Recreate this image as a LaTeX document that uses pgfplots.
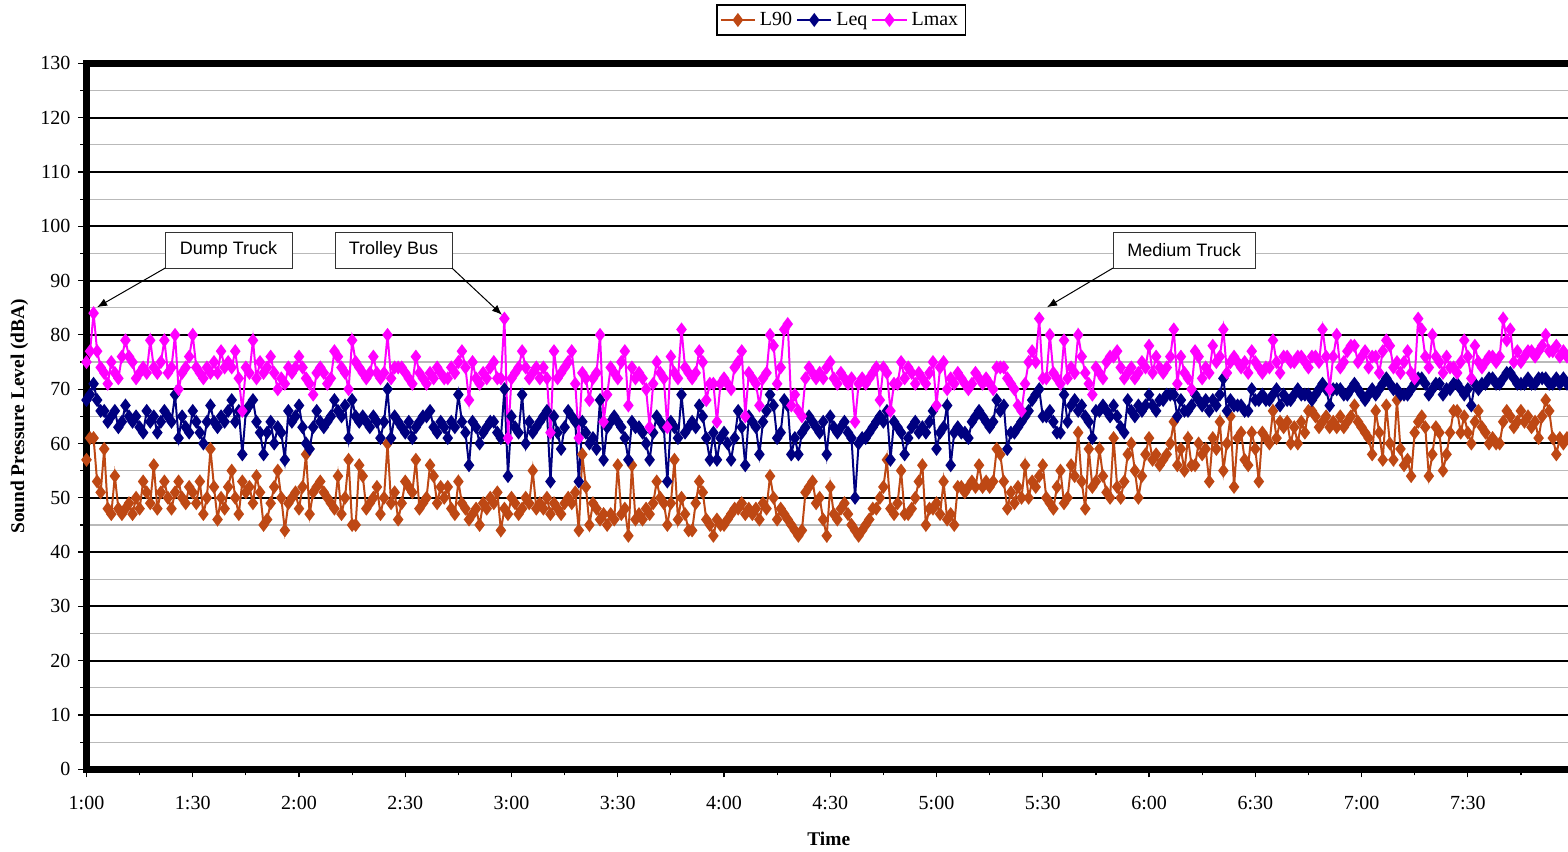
\documentclass[border=0pt]{standalone}
\usepackage{fontspec}
\setmainfont{Liberation Serif}
\newfontfamily\arialfont{Liberation Sans}
\usepackage{pgfplots}
\pgfplotsset{compat=1.18}
\usepackage{pgfplotstable}
\usetikzlibrary{arrows.meta}
\definecolor{cL90}{RGB}{190,72,20}
\definecolor{cLeq}{RGB}{0,0,128}
\definecolor{cLmax}{RGB}{255,0,255}

% one value per minute, starting at 1:00 (t = 60 min)
\pgfplotstableread[header=false,row sep=\\]{
57\\61\\61\\53\\51\\59\\48\\47\\54\\48\\
47\\48\\49\\47\\50\\48\\53\\51\\49\\56\\
48\\51\\53\\50\\48\\51\\53\\50\\49\\52\\
51\\49\\53\\47\\50\\59\\52\\46\\50\\48\\
52\\55\\50\\47\\53\\51\\52\\49\\54\\51\\
45\\46\\49\\52\\55\\50\\44\\49\\50\\51\\
48\\52\\58\\47\\51\\52\\53\\51\\50\\49\\
48\\54\\47\\50\\57\\45\\45\\56\\54\\48\\
49\\50\\52\\47\\50\\60\\49\\51\\46\\49\\
53\\52\\51\\57\\48\\49\\50\\56\\54\\49\\
52\\50\\52\\48\\47\\53\\49\\48\\46\\47\\
48\\45\\49\\48\\50\\49\\51\\44\\48\\47\\
50\\49\\47\\48\\50\\49\\55\\48\\49\\48\\
50\\47\\49\\48\\47\\49\\50\\49\\51\\44\\
58\\52\\45\\49\\48\\46\\47\\45\\47\\46\\
56\\47\\48\\43\\56\\46\\47\\46\\48\\47\\
49\\53\\50\\49\\45\\49\\57\\46\\50\\47\\
44\\44\\49\\53\\51\\46\\45\\43\\46\\45\\
45\\46\\47\\48\\48\\49\\47\\48\\47\\48\\
46\\49\\48\\54\\50\\46\\48\\47\\46\\45\\
44\\43\\44\\51\\52\\53\\49\\50\\46\\43\\
52\\47\\46\\48\\49\\47\\45\\44\\43\\44\\
45\\46\\48\\48\\50\\52\\57\\48\\47\\49\\
55\\47\\47\\48\\50\\53\\56\\45\\48\\48\\
49\\47\\53\\46\\47\\45\\52\\52\\51\\52\\
53\\52\\56\\52\\53\\52\\53\\59\\58\\53\\
48\\51\\49\\52\\50\\56\\50\\53\\52\\54\\
56\\50\\49\\48\\52\\55\\49\\50\\56\\54\\
62\\53\\48\\59\\52\\53\\59\\54\\51\\50\\
61\\52\\50\\53\\58\\60\\55\\50\\54\\58\\
61\\57\\58\\56\\57\\58\\60\\64\\56\\59\\
55\\61\\56\\56\\60\\58\\59\\53\\61\\59\\
64\\55\\60\\65\\52\\61\\62\\57\\56\\62\\
59\\53\\62\\61\\60\\66\\61\\64\\63\\64\\
60\\63\\60\\64\\62\\66\\66\\65\\63\\64\\
65\\63\\64\\63\\65\\63\\64\\65\\67\\64\\
63\\62\\61\\58\\66\\62\\57\\67\\60\\57\\
68\\59\\56\\57\\54\\62\\64\\65\\63\\54\\
58\\63\\62\\55\\58\\62\\66\\66\\62\\65\\
62\\60\\64\\66\\63\\62\\60\\61\\60\\60\\
64\\66\\65\\63\\64\\66\\64\\65\\63\\64\\
61\\65\\68\\66\\61\\58\\61\\60\\61\\
}\Lninety

\pgfplotstableread[header=false,row sep=\\]{
68\\69\\71\\68\\66\\66\\64\\65\\66\\63\\
64\\67\\65\\64\\65\\63\\62\\66\\64\\65\\
62\\64\\66\\65\\64\\69\\61\\65\\63\\62\\
66\\64\\62\\60\\64\\67\\64\\63\\65\\64\\
66\\68\\64\\66\\58\\66\\67\\68\\64\\62\\
58\\62\\64\\60\\63\\62\\57\\66\\64\\65\\
67\\63\\60\\59\\63\\66\\64\\63\\64\\65\\
68\\66\\65\\67\\61\\68\\65\\64\\65\\64\\
63\\65\\64\\61\\64\\70\\61\\65\\64\\63\\
62\\64\\61\\63\\64\\65\\65\\66\\63\\62\\
64\\63\\61\\64\\63\\69\\64\\62\\56\\64\\
63\\60\\62\\63\\64\\64\\62\\61\\70\\54\\
65\\63\\62\\69\\60\\64\\62\\63\\64\\65\\
66\\53\\65\\62\\59\\63\\66\\65\\64\\53\\
64\\62\\60\\61\\59\\68\\57\\63\\64\\65\\
64\\63\\61\\57\\64\\63\\63\\62\\60\\57\\
62\\65\\64\\63\\53\\64\\63\\61\\69\\62\\
63\\64\\63\\67\\65\\61\\57\\62\\57\\61\\
62\\60\\57\\61\\66\\63\\56\\65\\64\\63\\
58\\64\\66\\69\\67\\61\\62\\68\\67\\58\\
61\\58\\62\\63\\65\\64\\63\\62\\64\\58\\
65\\63\\62\\63\\64\\62\\61\\50\\60\\61\\
61\\62\\63\\64\\65\\64\\66\\57\\64\\63\\
62\\58\\61\\63\\64\\62\\63\\62\\64\\66\\
59\\62\\63\\67\\56\\62\\63\\62\\62\\61\\
64\\65\\66\\65\\64\\63\\64\\68\\66\\67\\
59\\62\\62\\63\\64\\65\\66\\68\\69\\70\\
65\\65\\66\\64\\62\\62\\69\\64\\67\\68\\
66\\67\\65\\64\\61\\66\\66\\67\\66\\65\\
67\\65\\63\\62\\68\\66\\65\\67\\66\\67\\
69\\67\\66\\68\\68\\69\\69\\69\\65\\68\\
66\\66\\67\\69\\68\\67\\68\\66\\68\\67\\
69\\72\\66\\68\\67\\67\\67\\66\\66\\70\\
68\\68\\69\\68\\68\\69\\70\\67\\69\\68\\
68\\69\\70\\69\\69\\69\\68\\69\\70\\71\\
70\\67\\70\\70\\70\\69\\69\\70\\71\\70\\
69\\68\\69\\70\\69\\70\\71\\72\\71\\70\\
70\\69\\69\\69\\70\\71\\72\\72\\71\\69\\
70\\71\\71\\69\\70\\70\\71\\71\\70\\69\\
70\\67\\71\\70\\71\\71\\72\\72\\71\\71\\
72\\73\\73\\72\\71\\71\\71\\72\\71\\71\\
72\\72\\72\\71\\71\\72\\71\\72\\71\\
}\Leq

\pgfplotstableread[header=false,row sep=\\]{
75\\77\\84\\77\\74\\73\\71\\75\\73\\72\\
76\\79\\76\\75\\72\\73\\74\\73\\79\\74\\
73\\75\\79\\73\\74\\80\\70\\73\\74\\76\\
80\\74\\73\\72\\74\\73\\75\\73\\77\\74\\
75\\74\\77\\72\\66\\74\\73\\79\\72\\75\\
73\\74\\76\\73\\70\\72\\71\\74\\73\\74\\
76\\74\\72\\71\\69\\73\\74\\73\\71\\72\\
77\\76\\74\\73\\70\\79\\75\\74\\73\\72\\
73\\76\\73\\72\\73\\80\\72\\74\\74\\74\\
73\\72\\71\\76\\73\\72\\71\\73\\72\\74\\
73\\72\\72\\74\\73\\75\\77\\74\\68\\75\\
72\\71\\73\\72\\74\\75\\72\\72\\83\\61\\
72\\73\\74\\77\\74\\72\\73\\74\\72\\74\\
72\\62\\77\\72\\73\\74\\75\\77\\71\\61\\
73\\72\\68\\72\\73\\80\\64\\69\\74\\73\\
72\\75\\77\\67\\74\\72\\73\\72\\70\\63\\
71\\75\\73\\72\\63\\76\\73\\72\\81\\74\\
73\\72\\73\\77\\75\\68\\71\\71\\64\\71\\
72\\71\\70\\74\\75\\77\\65\\73\\72\\71\\
67\\72\\73\\80\\78\\71\\74\\81\\82\\67\\
69\\66\\65\\72\\74\\73\\72\\73\\72\\74\\
75\\72\\71\\73\\72\\71\\72\\64\\71\\72\\
71\\72\\73\\74\\68\\74\\73\\66\\71\\71\\
75\\72\\74\\73\\71\\73\\72\\71\\73\\75\\
67\\74\\75\\70\\72\\71\\73\\72\\71\\70\\
71\\73\\72\\71\\72\\71\\70\\74\\74\\74\\
72\\71\\70\\67\\66\\71\\75\\77\\75\\83\\
72\\72\\80\\73\\72\\71\\79\\72\\74\\73\\
80\\76\\73\\71\\69\\74\\73\\72\\75\\76\\
76\\77\\74\\72\\73\\74\\72\\73\\75\\74\\
78\\73\\76\\74\\73\\74\\76\\81\\71\\76\\
73\\72\\70\\77\\76\\72\\74\\73\\78\\75\\
76\\81\\73\\75\\76\\75\\74\\75\\73\\77\\
75\\74\\73\\74\\74\\79\\75\\73\\76\\76\\
75\\75\\76\\76\\75\\74\\76\\76\\75\\81\\
76\\70\\76\\80\\74\\75\\77\\78\\78\\75\\
76\\77\\74\\76\\76\\73\\77\\79\\78\\74\\
75\\73\\75\\77\\73\\72\\83\\81\\76\\74\\
80\\76\\75\\73\\76\\74\\74\\73\\75\\79\\
76\\72\\78\\75\\74\\75\\76\\76\\75\\76\\
83\\79\\81\\75\\77\\75\\76\\77\\77\\76\\
77\\78\\80\\77\\77\\78\\76\\77\\76\\
}\Lmax

\begin{document}
\begin{tikzpicture}
\path[use as bounding box] (0,0) rectangle (784pt,425.5pt);
\clip (0,0) rectangle (784pt,425.5pt);
\fill[white] (0,0) rectangle (784pt,425.5pt);
\begin{axis}[
  at={(43.25pt,40.85pt)}, anchor=south west,
  scale only axis, width=740.75pt, height=352.95pt,
  xmin=60, xmax=478.3, ymin=0, ymax=130,
  clip=false,
  axis line style={draw=none},
  xtick={60,90,...,450},
  xticklabels={1:00,1:30,2:00,2:30,3:00,3:30,4:00,4:30,5:00,5:30,6:00,6:30,7:00,7:30},
  minor xtick={75,105,...,465},
  ytick={0,10,...,130}, minor ytick={5,15,...,125},
  xtick pos=bottom, ytick pos=left,
  tick align=outside,
  major tick length=4pt, minor tick length=3pt,
  every tick/.style={black, line width=0.6pt},
  ymajorgrids, yminorgrids,
  major grid style={black, line width=1pt},
  minor grid style={gray!55, line width=0.6pt},
  /pgf/number format/assume math mode=true,
  tick label style={font=\fontsize{10}{12}\selectfont},
  xticklabel style={yshift=-6pt},
  yticklabel style={xshift=-0.5pt},
  xlabel={Time}, ylabel={Sound Pressure Level (dBA)},
  label style={font=\fontsize{9.7}{12}\selectfont\bfseries},
  xlabel style={at={(axis description cs:0.501,-0.099)}, anchor=center},
  ylabel style={at={(axis description cs:-0.0452,0.5)}, anchor=center},
  legend columns=3,
  legend style={at={(axis description cs:0.5093,1.0615)}, anchor=center,
    draw=black, line width=0.7pt, font=\fontsize{10}{11}\selectfont,
    inner sep=1.5pt, /tikz/every even column/.append style={column sep=0pt}},
  every axis plot/.append style={line width=1pt, mark=diamond*, mark size=2.7pt},
]
\addplot[color=cL90, mark options={fill=cL90, draw=cL90}] table[x expr=\coordindex+60, y index=0] {\Lninety};
\addlegendentry{L90}
\addplot[color=cLeq, mark options={fill=cLeq, draw=cLeq}] table[x expr=\coordindex+60, y index=0] {\Leq};
\addlegendentry{Leq}
\addplot[color=cLmax, mark options={fill=cLmax, draw=cLmax}] table[x expr=\coordindex+60, y index=0] {\Lmax};
\addlegendentry{Lmax}

\draw[line width=3.3pt, line join=miter] (rel axis cs:1.02,0) -- (rel axis cs:0,0) -- (rel axis cs:0,1) -- (rel axis cs:1.02,1);

\tikzset{annot/.style={draw=black!80, line width=0.5pt, fill=white, font=\arialfont\fontsize{9}{11}\selectfont, minimum height=18pt, inner sep=0pt}}
\node[annot, minimum width=63.5pt] at (axis cs:100.1,95.6) {Dump Truck};
\draw[-{Latex[length=5pt,width=4pt]}, line width=0.5pt] (axis cs:82.2,92.3) -- (axis cs:63.0,85.1);
\node[annot, minimum width=58.5pt] at (axis cs:146.7,95.6) {Trolley Bus};
\draw[-{Latex[length=5pt,width=4pt]}, line width=0.5pt] (axis cs:163.2,92.3) -- (axis cs:177.3,83.7);
\node[annot, minimum width=71pt] at (axis cs:369.9,95.6) {Medium Truck};
\draw[-{Latex[length=5pt,width=4pt]}, line width=0.5pt] (axis cs:349.8,92.3) -- (axis cs:331.2,85.1);
\end{axis}
\end{tikzpicture}
\end{document}
